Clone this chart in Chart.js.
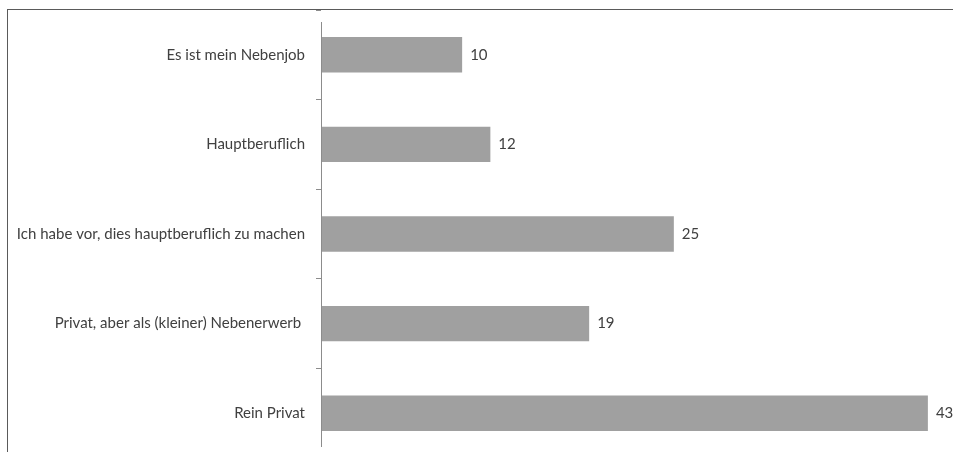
<!DOCTYPE html>
<html lang="de">
<head>
    <meta charset="UTF-8">
    <title>Chart</title>
    <script src="https://cdn.jsdelivr.net/npm/chart.js"></script>
    <style>
        html, body { margin: 0; padding: 0; background: #fff; overflow: hidden; }
        #wrap { position: relative; width: 953px; height: 470px; }
        #frame { position: absolute; left: 7px; top: 9px; right: -2px; bottom: -2px;
                 border-top: 1px solid #5a5a5a; border-left: 1px solid #5a5a5a; pointer-events: none; }
    </style>
</head>
<body>
    <div id="wrap">
        <canvas id="chart" width="953" height="470"></canvas>
        <div id="frame"></div>
    </div>

    <script>
        const categories = [
            "Es ist mein Nebenjob",
            "Hauptberuflich",
            "Ich habe vor, dies hauptberuflich zu machen",
            "Privat, aber als (kleiner) Nebenerwerb ",
            "Rein Privat"
        ];
        const values = [10, 12, 25, 19, 43];

        // Zahlen rechts neben die Balken schreiben
        const valueLabels = {
            id: "valueLabels",
            afterDatasetsDraw(chart) {
                const ctx = chart.ctx;
                const meta = chart.getDatasetMeta(0);
                ctx.save();
                ctx.font = "15px Lato";
                ctx.fillStyle = "#404040";
                ctx.textBaseline = "middle";
                meta.data.forEach((bar, i) => {
                    ctx.fillText(values[i], bar.x + 8, bar.y);
                });
                ctx.restore();
            }
        };

        // Achsenlinie (etwas kuerzer als die Plotflaeche, wie im Original)
        const axisLine = {
            id: "axisLine",
            afterDraw(chart) {
                const ctx = chart.ctx;
                const a = chart.chartArea;
                ctx.save();
                ctx.strokeStyle = "#8c8c8c";
                ctx.lineWidth = 1;
                ctx.beginPath();
                ctx.moveTo(Math.round(a.left) + 0.5, a.top + 12);
                ctx.lineTo(Math.round(a.left) + 0.5, a.bottom - 11);
                ctx.stroke();
                ctx.restore();
            }
        };

        const ctx = document.getElementById("chart").getContext("2d");

        new Chart(ctx, {
            type: "bar",
            data: {
                labels: categories,
                datasets: [{
                    data: values,
                    backgroundColor: "#a0a0a0",
                    borderWidth: 0,
                    barPercentage: 0.79,
                    categoryPercentage: 0.5
                }]
            },
            options: {
                indexAxis: "y",
                responsive: false,
                animation: false,
                layout: {
                    padding: { top: 10, bottom: 12, right: 11, left: 0 }
                },
                scales: {
                    x: {
                        min: 0,
                        max: 44,
                        display: false
                    },
                    y: {
                        afterFit(scale) {
                            scale.width = 321;
                            scale.paddingTop = 0;
                            scale.paddingBottom = 0;
                        },
                        border: { display: false },
                        grid: {
                            display: true,
                            drawOnChartArea: false,
                            drawTicks: true,
                            tickLength: 5,
                            offset: true,
                            color: "#8c8c8c"
                        },
                        ticks: {
                            color: "#404040",
                            padding: 11,
                            font: { family: "Lato", size: 15 }
                        }
                    }
                },
                plugins: {
                    legend: { display: false },
                    tooltip: { enabled: false }
                }
            },
            plugins: [valueLabels, axisLine]
        });
    </script>
</body>
</html>
